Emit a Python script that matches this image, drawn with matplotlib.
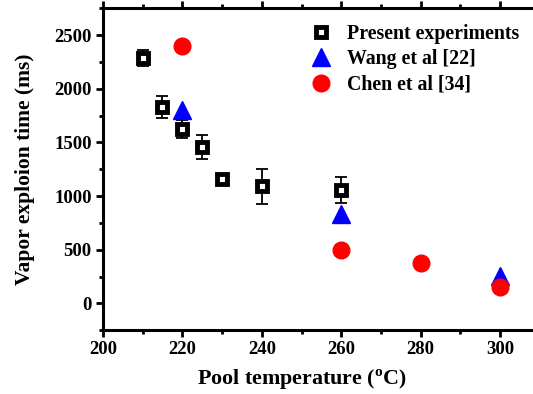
import matplotlib
matplotlib.use("Agg")
import matplotlib.pyplot as plt
from matplotlib.ticker import MultipleLocator
from matplotlib.lines import Line2D

plt.rcParams['font.family'] = ['Liberation Serif', 'DejaVu Serif']
plt.rcParams['font.weight'] = 'bold'
plt.rcParams['mathtext.fontset'] = 'custom'
plt.rcParams['mathtext.rm'] = 'Liberation Serif:bold'
plt.rcParams['mathtext.bf'] = 'Liberation Serif:bold'

# Present experiments
exp_T = [210, 215, 220, 225, 230, 240, 260]
exp_t = [2285, 1830, 1625, 1455, 1155, 1090, 1055]
exp_err = [75, 100, 80, 110, 40, 160, 120]

# Wang et al [22]
wang_T = [220, 260, 300]
wang_t = [1800, 830, 255]

# Chen et al [34]
chen_T = [220, 260, 280, 300]
chen_t = [2400, 500, 375, 150]

fig = plt.figure(figsize=(5.33, 3.94), dpi=100)
ax = fig.add_axes([0.193, 0.162, 0.82, 0.817])

sq_style = dict(marker='s', ms=6.5, mfc='white', mec='black', mew=3.5, linestyle='none')
tri_style = dict(marker='^', ms=13, color='blue', mec='blue', linestyle='none')
circ_style = dict(marker='o', ms=12, color='red', mec='red', linestyle='none')

ax.errorbar(exp_T, exp_t, yerr=exp_err, fmt='none', ecolor='black', elinewidth=1.3,
            capsize=4, capthick=1.3, zorder=2)
ax.plot(exp_T, exp_t, zorder=3, **sq_style)
ax.plot(wang_T, wang_t, zorder=4, **tri_style)
ax.plot(chen_T, chen_t, zorder=4, **circ_style)

ax.set_xlim(200, 310)
ax.set_ylim(-250, 2750)
ax.xaxis.set_major_locator(MultipleLocator(20))
ax.xaxis.set_minor_locator(MultipleLocator(10))
ax.yaxis.set_major_locator(MultipleLocator(500))
ax.yaxis.set_minor_locator(MultipleLocator(250))

for s in ax.spines.values():
    s.set_linewidth(2.2)
ax.tick_params(which='major', direction='out', length=5, width=2, labelsize=13.5,
               top=True, right=True, pad=3)
ax.tick_params(which='minor', direction='out', length=3, width=2, top=True, right=True)
for lab in ax.get_xticklabels() + ax.get_yticklabels():
    lab.set_fontweight('bold')

ax.set_xlabel('Pool temperature ($^{\\mathbf{o}}$C)', fontsize=15.8, fontweight='bold')
ax.set_ylabel('Vapor exploion time (ms)', fontsize=15.5, fontweight='bold')
ax.xaxis.set_label_coords(0.456, -0.115)
ax.yaxis.set_label_coords(-0.155, 0.5)

handles = [Line2D([], [], **sq_style), Line2D([], [], **tri_style), Line2D([], [], **circ_style)]
labels = ['Present experiments', 'Wang et al [22]', 'Chen et al [34]']
leg = ax.legend(handles, labels, loc='upper left', bbox_to_anchor=(0.55, 0.985),
                bbox_transform=fig.transFigure, frameon=False,
                handletextpad=0.8, labelspacing=0.27, handlelength=1.0,
                prop={'weight': 'bold', 'size': 14.3})

fig.savefig('out.png', dpi=100)
